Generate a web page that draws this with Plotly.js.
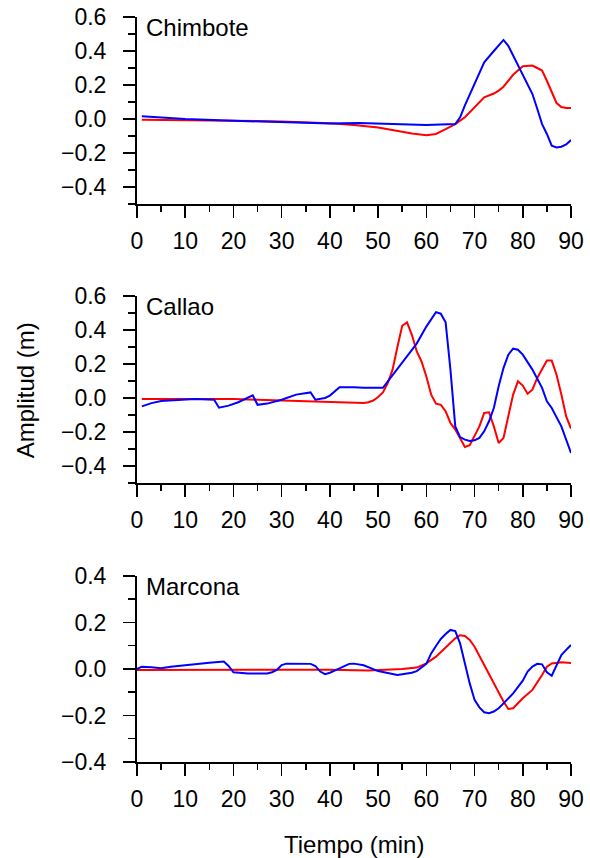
<!DOCTYPE html>
<html>
<head>
<meta charset="utf-8">
<script src="https://cdn.plot.ly/plotly-3.0.1.min.js"></script>
<style>html,body{margin:0;padding:0;background:#fff;}#chart{width:590px;height:858px;}</style>
</head>
<body>
<div id="chart"></div>
<script>
// Chimbote
const chimRedT = [1,10,20,30,40,45,50,55,57,60,62,64,66,68,70,72,74,75,76,78,80,82,83,84,85,86,87,88,89,90];
const chimRedV = [-0.005,-0.006,-0.01,-0.015,-0.025,-0.035,-0.05,-0.075,-0.085,-0.095,-0.088,-0.06,-0.03,0.01,0.07,0.127,0.15,0.167,0.19,0.26,0.31,0.314,0.30,0.285,0.225,0.157,0.094,0.07,0.065,0.065];
const chimBlueT = [1,5,10,20,30,40,46,50,55,60,66,67,68,70,72,74,75,76,77,78,80,82,83,84,85,86,87,88,89,90];
const chimBlueV = [0.016,0.008,0,-0.01,-0.02,-0.027,-0.024,-0.027,-0.03,-0.035,-0.03,0.01,0.08,0.205,0.333,0.40,0.435,0.465,0.43,0.372,0.265,0.147,0.06,-0.03,-0.088,-0.157,-0.167,-0.163,-0.15,-0.124];
// Callao
const calRedT = [1,10,20,25,30,40,45,47,48,49,50,51,52,53,54,55,56,57,58,59,60,61,62,63,64,65,66,67,68,69,70,71,72,73,74,75,76,77,78,79,80,81,82,83,84,85,86,87,88,89,90];
const calRedV = [-0.006,-0.005,-0.006,-0.01,-0.014,-0.02,-0.028,-0.03,-0.025,-0.015,0.006,0.033,0.088,0.167,0.30,0.425,0.445,0.372,0.275,0.215,0.127,0.02,-0.033,-0.04,-0.078,-0.147,-0.186,-0.235,-0.288,-0.278,-0.225,-0.167,-0.088,-0.084,-0.167,-0.265,-0.235,-0.108,0.02,0.098,0.073,0.025,0.049,0.118,0.167,0.22,0.22,0.137,0.02,-0.108,-0.18];
const calBlueT = [1,3,5,10,12,16,17,19,21,24,25,27,30,33,35,36,37,39,40,42,45,47,51,52,55,58,60,62,63,64,65,66,67,68,69,70,71,72,73,74,75,76,77,78,79,80,82,84,85,86,88,90];
const calBlueV = [-0.049,-0.03,-0.018,-0.01,-0.006,-0.01,-0.057,-0.045,-0.025,0.016,-0.04,-0.033,-0.01,0.02,0.03,0.033,-0.01,0,0.014,0.063,0.063,0.06,0.06,0.098,0.205,0.32,0.42,0.505,0.496,0.445,0.167,-0.167,-0.23,-0.245,-0.253,-0.249,-0.235,-0.196,-0.137,-0.059,0.069,0.176,0.255,0.29,0.284,0.255,0.167,0.06,-0.02,-0.059,-0.167,-0.323];
// Marcona
const marRedT = [0,10,20,30,40,48,55,58,60,62,64,66,67,68,69,70,72,74,76,77,78,80,82,84,85,86,88,90];
const marRedV = [-0.004,-0.003,-0.002,-0.002,-0.003,-0.006,0,0.006,0.024,0.053,0.093,0.132,0.145,0.142,0.125,0.096,0.017,-0.062,-0.14,-0.172,-0.169,-0.126,-0.09,-0.026,0.01,0.024,0.029,0.026];
const marBlueT = [0,1,3,5,7,10,15,18,19,20,23,27,28,29,30,31,36,37,38,39,40,42,44,45,47,50,54,57,58,60,61,62,63,64,65,66,67,68,69,70,71,72,73,74,75,76,78,80,81,82,83,84,85,86,87,88,89,90];
const marBlueV = [0,0.01,0.007,0.003,0.01,0.017,0.027,0.032,0.013,-0.014,-0.019,-0.019,-0.014,-0.004,0.017,0.023,0.022,0.013,-0.011,-0.022,-0.016,0.003,0.022,0.023,0.016,-0.009,-0.026,-0.016,-0.009,0.022,0.067,0.099,0.129,0.15,0.168,0.163,0.11,0.024,-0.062,-0.133,-0.165,-0.186,-0.19,-0.183,-0.169,-0.148,-0.105,-0.05,-0.011,0.01,0.022,0.02,-0.014,-0.029,0.017,0.06,0.082,0.103];

const stations = ['Chimbote','Callao','Marcona'];
const xTickVals = [0,10,20,30,40,50,60,70,80,90];
const yRanges = [[-0.5,0.6],[-0.5,0.6],[-0.4,0.4]];

const red = '#ff0000', blue = '#0000ff';
const tickFont = {family: 'Liberation Sans, Arial, sans-serif', size: 23, color: '#000'};
const textFont = {family: 'Liberation Sans, Arial, sans-serif', size: 24, color: '#000'};

function tr(x, y, color, ax) {
  return {x: x, y: y, type: 'scatter', mode: 'lines', line: {color: color, width: 2}, xaxis: 'x' + ax, yaxis: 'y' + ax, hoverinfo: 'skip'};
}
const data = [
  tr(chimRedT, chimRedV, red, ''), tr(chimBlueT, chimBlueV, blue, ''),
  tr(calRedT, calRedV, red, '2'), tr(calBlueT, calBlueV, blue, '2'),
  tr(marRedT, marRedV, red, '3'), tr(marBlueT, marBlueV, blue, '3')
];

function xax(anchor) {
  return {anchor: anchor, domain: [0,1], range: [0,90], tickvals: xTickVals, ticks: 'outside', ticklen: 12, tickwidth: 1.5,
    tickcolor: '#000', showline: true, linewidth: 2, linecolor: '#000', showgrid: false, zeroline: false,
    tickfont: tickFont, ticklabelstandoff: 3,
    minor: {dtick: 5, tick0: 0, ticks: 'outside', ticklen: 6, tickwidth: 1.5, tickcolor: '#000', showgrid: false}};
}
function yax(anchor, dom, rng) {
  return {anchor: anchor, domain: dom, range: rng, dtick: 0.2, tick0: 0, tickformat: '.1f', ticks: 'outside', ticklen: 12, tickwidth: 1.5,
    tickcolor: '#000', showline: true, linewidth: 2, linecolor: '#000', showgrid: false, zeroline: false,
    tickfont: tickFont, ticklabelstandoff: 12,
    minor: {dtick: 0.1, tick0: 0, ticks: 'outside', ticklen: 7, tickwidth: 1.5, tickcolor: '#000', showgrid: false}};
}

const annotations = stations.map((s, i) => ({
  text: s, xref: (i === 0 ? 'x' : 'x' + (i + 1)) + ' domain', yref: (i === 0 ? 'y' : 'y' + (i + 1)) + ' domain',
  x: 0.015, y: 0.945, xanchor: 'left', yanchor: 'middle', showarrow: false, font: textFont
}));
annotations.push({text: 'Amplitud (m)', xref: 'paper', yref: 'paper', x: -0.258, y: 0.499, textangle: -90,
  xanchor: 'center', yanchor: 'middle', showarrow: false, font: textFont});
annotations.push({text: 'Tiempo (min)', xref: 'paper', yref: 'paper', x: 0.5, y: -0.111,
  xanchor: 'center', yanchor: 'middle', showarrow: false, font: textFont});

const layout = {
  width: 590, height: 858, margin: {l: 137, r: 19, t: 17, b: 96},
  paper_bgcolor: '#fff', plot_bgcolor: '#fff', showlegend: false, font: tickFont,
  xaxis: xax('y'), yaxis: yax('x', [0.749, 1], yRanges[0]),
  xaxis2: xax('y2'), yaxis2: yax('x2', [0.3745, 0.6255], yRanges[1]),
  xaxis3: xax('y3'), yaxis3: yax('x3', [0, 0.2497], yRanges[2]),
  annotations: annotations
};
Plotly.newPlot('chart', data, layout, {displayModeBar: false, staticPlot: true});
</script>
</body>
</html>
